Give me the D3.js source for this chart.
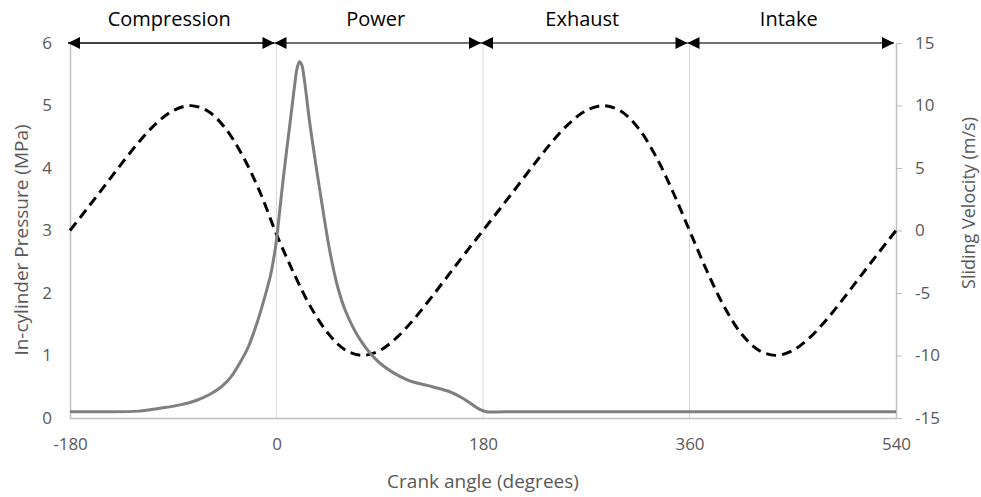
<!DOCTYPE html>
<html>
<head>
<meta charset="utf-8">
<script src="https://cdn.jsdelivr.net/npm/d3@7"></script>
<style>
  body { margin: 0; background: #fff; }
  text { font-family: "Open Sans", sans-serif; }
</style>
</head>
<body>
<script>
// crank angle samples (deg) and values
var velAngles = [-180,-165,-150,-135,-120,-105,-90,-75,-60,-45,-30,-15,0,15,30,45,60,75,90,105,120,135,150,165,180,
                 195,210,225,240,255,270,285,300,315,330,345,360,375,390,405,420,435,450,465,480,495,510,525,540];
var velValues = [0,1.76,3.55,5.35,7.07,8.55,9.6,9.99,9.56,8.23,6.05,3.2,-0.3,-3.4,-6.15,-8.23,-9.56,-9.99,-9.6,-8.55,-7.07,-5.35,-3.55,-1.76,0,
                 1.76,3.55,5.35,7.07,8.55,9.6,9.99,9.56,8.23,6.05,3.2,0,-3.2,-6.05,-8.23,-9.56,-9.99,-9.6,-8.55,-7.07,-5.35,-3.55,-1.76,0];

var presAngles = [-180,-150,-120,-100,-84,-70,-58,-48,-40,-32,-25,-17,-10,-5,-2,0,3,6,12,16,18,20,22,24,29,36,42,47,53,60,73,90,114,136,151,162,171,178,183,200,300,400,540];
var presValues = [0.1,0.1,0.11,0.16,0.21,0.28,0.38,0.5,0.65,0.88,1.12,1.52,1.95,2.3,2.6,2.85,3.35,3.85,4.75,5.35,5.6,5.7,5.65,5.45,4.72,3.85,3.15,2.62,2.12,1.72,1.25,0.88,0.61,0.5,0.42,0.32,0.21,0.13,0.1,0.1,0.1,0.1,0.1];

var phaseNames = ["Compression","Power","Exhaust","Intake"];
var phaseStart = [-180,0,180,360];
var phaseEnd = [0,180,360,540];

var xTicks = [-180,0,180,360,540];
var yLeftTicks = [0,1,2,3,4,5,6];
var yRightTicks = [-15,-10,-5,0,5,10,15];
var gridAngles = [0,180,360];

var W = 981, H = 497;
var plotL = 70, plotR = 896, plotT = 43, plotB = 418;

var svg = d3.select("body").append("svg")
    .attr("width", W)
    .attr("height", H);

var x = d3.scaleLinear().domain([-180,540]).range([plotL,plotR]);
var yP = d3.scaleLinear().domain([0,6]).range([plotB,plotT]);
var yV = d3.scaleLinear().domain([-15,15]).range([plotB,plotT]);

var defs = svg.append("defs");
defs.append("marker")
    .attr("id","head")
    .attr("viewBox","0 0 10 10")
    .attr("refX",10).attr("refY",5)
    .attr("markerWidth",13).attr("markerHeight",12)
    .attr("markerUnits","userSpaceOnUse")
    .attr("orient","auto-start-reverse")
  .append("path")
    .attr("d","M0,0 L10,5 L0,10 Z")
    .attr("fill","#000");

// vertical gridlines
svg.selectAll(".grid")
   .data(gridAngles)
   .enter()
   .append("line")
   .attr("x1", d => x(d)).attr("x2", d => x(d))
   .attr("y1", plotT).attr("y2", plotB)
   .attr("stroke","#d9d9d9")
   .attr("stroke-width",1);

// axes
var axisColor = "#bfbfbf";
var textColor = "#595959";
var plain = d => String(d);

var gx = svg.append("g")
    .attr("transform","translate(0,"+plotB+")")
    .call(d3.axisBottom(x).tickValues(xTicks).tickFormat(plain).tickSize(0).tickPadding(20));
var gl = svg.append("g")
    .attr("transform","translate("+plotL+",0)")
    .call(d3.axisLeft(yP).tickValues(yLeftTicks).tickFormat(plain).tickSize(0).tickPadding(18));
var gr = svg.append("g")
    .attr("transform","translate("+plotR+",0)")
    .call(d3.axisRight(yV).tickValues(yRightTicks).tickFormat(plain).tickSize(6).tickPadding(13));

[gx,gl,gr].forEach(function(g) {
  g.select(".domain").attr("stroke",axisColor).attr("stroke-width",1.5);
  g.selectAll(".tick line").attr("stroke",axisColor);
  g.selectAll(".tick text")
   .attr("fill",textColor)
   .style("font-size","17px")
   .style("font-family","'Open Sans', sans-serif");
});
gx.select(".domain").attr("d","M"+plotL+",0.5H"+plotR);
gl.select(".domain").attr("d","M0.5,"+plotT+"V"+plotB);
gr.select(".domain").attr("d","M0.5,"+plotT+"V"+plotB);

// axis titles
svg.append("text")
   .attr("x",(plotL+plotR)/2).attr("y",488)
   .attr("text-anchor","middle")
   .attr("fill",textColor)
   .style("font-size","19px")
   .text("Crank angle (degrees)");

svg.append("text")
   .attr("transform","translate(28,240) rotate(-90)")
   .attr("text-anchor","middle")
   .attr("fill",textColor)
   .style("font-size","19px")
   .text("In-cylinder Pressure (MPa)");

svg.append("text")
   .attr("transform","translate(975,203) rotate(-90)")
   .attr("text-anchor","middle")
   .attr("fill",textColor)
   .style("font-size","18px")
   .text("Sliding Velocity (m/s)");

// series
var presLine = d3.line()
    .x((d,i) => x(presAngles[i]))
    .y(d => yP(d))
    .curve(d3.curveCatmullRom.alpha(0.5));

var velLine = d3.line()
    .x((d,i) => x(velAngles[i]))
    .y(d => yV(d))
    .curve(d3.curveCatmullRom);

svg.append("path")
   .attr("d", velLine(velValues))
   .attr("fill","none")
   .attr("stroke","#000")
   .attr("stroke-width",3)
   .attr("stroke-dasharray","10,6");

svg.append("path")
   .attr("d", presLine(presValues))
   .attr("fill","none")
   .attr("stroke","#7f7f7f")
   .attr("stroke-width",3)
   .attr("stroke-linejoin","round");

// stroke arrows and labels
svg.selectAll(".phase")
   .data(phaseNames)
   .enter()
   .append("line")
   .attr("x1",(d,i) => x(phaseStart[i]) - 2)
   .attr("x2",(d,i) => x(phaseEnd[i]) - 2)
   .attr("y1",plotT).attr("y2",plotT)
   .attr("stroke",(d,i) => i == 0 ? "#000" : "#404040")
   .attr("stroke-width",1.5)
   .attr("marker-start","url(#head)")
   .attr("marker-end","url(#head)");

svg.selectAll(".phaseLabel")
   .data(phaseNames)
   .enter()
   .append("text")
   .attr("x",(d,i) => (x(phaseStart[i]) + x(phaseEnd[i]))/2 - 4)
   .attr("y",26)
   .attr("text-anchor","middle")
   .attr("fill","#000")
   .style("font-size","20px")
   .text(d => d);
</script>
</body>
</html>
